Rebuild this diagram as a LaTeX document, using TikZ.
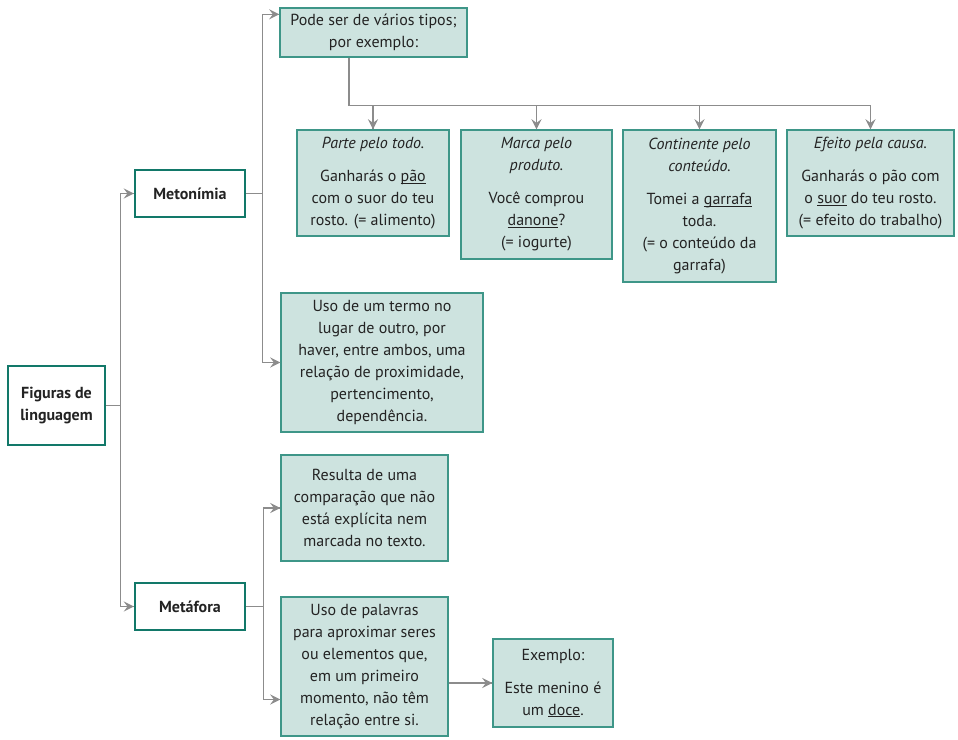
\documentclass[tikz,border=0pt]{standalone}
\usepackage{fontspec}
\setmainfont{PT Sans}
\tikzset{->/.style = {decoration={markings, mark=at position 1 with {\arrow[scale=2.1]{stealth}}}, postaction={decorate}}}
\usetikzlibrary{calc,
                 decorations.markings}
\definecolor{verde}{RGB}{62,150,136}
\definecolor{verdeescuro}{RGB}{18,120,105}
\definecolor{verdeclaro}{RGB}{205,227,223}
\definecolor{linha}{RGB}{140,140,140}
\definecolor{texto}{RGB}{35,35,35}
\tikzset{caixa/.style = {draw=verde, fill=verdeclaro, line width=1.4pt, align=center, inner sep=0pt, text=texto, font=\fontsize{16}{22}\selectfont},
         rotulo/.style = {caixa, draw=verdeescuro, fill=white, line width=2.2pt, font=\fontsize{16}{22}\selectfont\bfseries}}
\newcommand{\grifo}[1]{\underline{\smash{#1}}}

\begin{document}
\begin{tikzpicture}[x=1pt, y=-1pt, line width=1.1pt]
      \useasboundingbox (0,0) rectangle (958,739);
      \node [rotulo, minimum width=97pt, minimum height=79pt] (figuras) at (56.5,405.5) {Figuras de\\linguagem};
      \node [rotulo, minimum width=110pt, minimum height=47pt] (metonimia) at (190,193.5) {Metonímia};
      \node [rotulo, minimum width=110pt, minimum height=47pt] (metafora) at (190,606.5) {Metáfora};
      \node [caixa, minimum width=187pt, minimum height=49pt] (tipos) at (373.5,32.5) {Pode ser de vários tipos;\\por exemplo:};
      \node [caixa, minimum width=152pt, minimum height=106pt] (parte) at (373,183)
            {\textit{Parte pelo todo.}\\[11pt]Ganharás o \grifo{pão}\\com o suor do teu\\rosto. (= alimento)};
      \node [caixa, minimum width=151pt, minimum height=129pt] (marca) at (536.5,194.5)
            {\textit{Marca pelo}\\\textit{produto.}\\[11pt]Você comprou\\\grifo{danone}?\\(= iogurte)};
      \node [caixa, minimum width=153pt, minimum height=152pt] (conteudo) at (699.5,206)
            {\textit{Continente pelo}\\\textit{conteúdo.}\\[11pt]Tomei a \grifo{garrafa}\\toda.\\(= o conteúdo da\\garrafa)};
      \node [caixa, minimum width=167pt, minimum height=106pt] (efeito) at (870.5,183)
            {\textit{Efeito pela causa.}\\[11pt]Ganharás o pão com\\o \grifo{suor} do teu rosto.\\(= efeito do trabalho)};
      \node [caixa, minimum width=202pt, minimum height=139pt] (uso) at (382,362.5)
            {Uso de um termo no\\lugar de outro, por\\haver, entre ambos, uma\\relação de proximidade,\\pertencimento,\\dependência.};
      \node [caixa, minimum width=167pt, minimum height=106pt] (resulta) at (364.5,508)
            {Resulta de uma\\comparação que não\\está explícita nem\\marcada no texto.};
      \node [caixa, minimum width=167pt, minimum height=139pt] (palavras) at (364.5,666.5)
            {Uso de palavras\\para aproximar seres\\ou elementos que,\\em um primeiro\\momento, não têm\\relação entre si.};
      \node [caixa, minimum width=120pt, minimum height=88pt] (exemplo) at (553,683)
            {Exemplo:\\[11pt]Este menino é\\um \grifo{doce}.};
      \draw [linha, ->] (figuras.east) -- ++(14,0) |- (metonimia.west);
      \draw [linha, ->] (figuras.east) -- ++(14,0) |- (metafora.west);
      \draw [linha, ->] (metonimia.east) -- ++(16,0) |- ([yshift=-7pt]tipos.north west);
      \draw [linha, ->] (metonimia.east) -- ++(16,0) |- (uso.west);
      \draw [linha] ([xshift=-24.5pt]tipos.south) -- ++(0,48) coordinate (barra);
      \foreach \n in {parte,marca,conteudo,efeito}{
      \draw [linha, ->] (barra) -| (\n.north);}
      \draw [linha, ->] (metafora.east) -- ++(17,0) |- (resulta.west);
      \draw [linha, ->] (metafora.east) -- ++(17,0) |- ([yshift=-33pt]palavras.west);
      \draw [linha, ->] (palavras.east |- exemplo.west) -- (exemplo.west);
    \end{tikzpicture}
\end{document}
